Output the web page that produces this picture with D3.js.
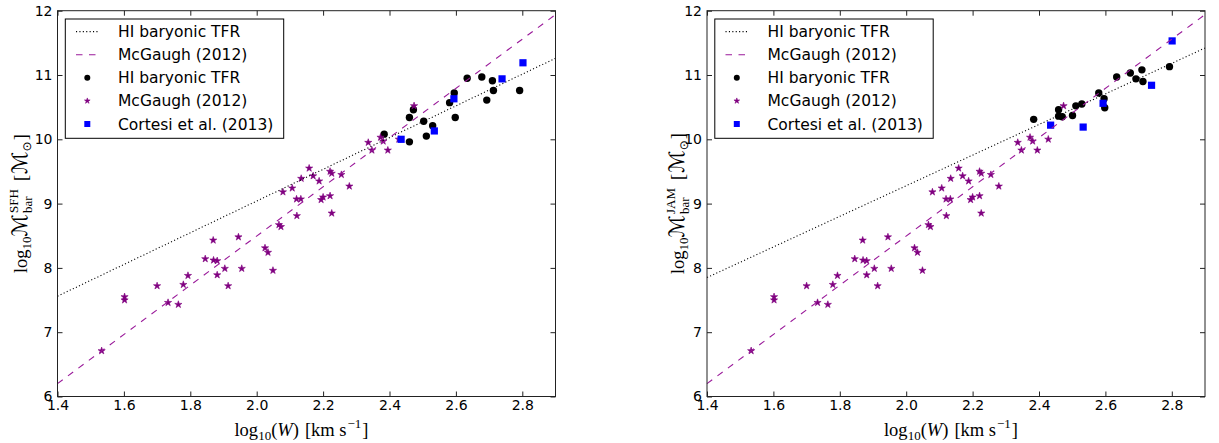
<!DOCTYPE html>
<html>
<head>
<meta charset="utf-8">
<script src="https://cdn.jsdelivr.net/npm/d3@7"></script>
<style>
  body { margin: 0; background: #fff; }
  text { font-family: "DejaVu Sans", sans-serif; }
</style>
</head>
<body>
<svg id="chart" width="1219" height="443"></svg>
<script>
var xTicks = [1.4, 1.6, 1.8, 2.0, 2.2, 2.4, 2.6, 2.8];
var yTicks = [6, 7, 8, 9, 10, 11, 12];

// McGaugh (2012) gas-rich galaxies, same in both panels
var mcgaughStars = [
  [1.533, 6.71], [1.602, 7.55], [1.602, 7.50], [1.700, 7.72], [1.733, 7.46],
  [1.764, 7.43], [1.779, 7.74], [1.793, 7.88], [1.845, 8.14], [1.869, 8.43],
  [1.870, 8.12], [1.881, 8.11], [1.881, 7.89], [1.904, 7.99], [1.914, 7.72],
  [1.945, 8.48], [1.955, 7.99], [2.025, 8.31], [2.034, 8.24], [2.049, 7.96],
  [2.067, 8.67], [2.073, 8.64], [2.079, 9.18], [2.107, 9.24], [2.120, 9.07],
  [2.121, 8.81], [2.133, 9.07], [2.134, 9.39], [2.158, 9.55], [2.170, 9.43],
  [2.188, 9.35], [2.194, 9.06], [2.200, 9.10], [2.221, 9.12], [2.221, 9.50],
  [2.226, 9.47], [2.226, 8.85], [2.255, 9.45], [2.279, 9.27], [2.336, 9.95],
  [2.347, 9.83], [2.373, 10.03], [2.381, 9.97], [2.395, 9.83], [2.428, 10.00],
  [2.474, 10.52]
];

// HI baryonic TFR sample, SFH masses
var hiSFH = [
  [2.384, 10.08], [2.460, 9.96], [2.460, 10.34], [2.472, 10.46], [2.503, 10.28],
  [2.511, 10.05], [2.530, 10.21], [2.581, 10.57], [2.595, 10.72], [2.598, 10.34],
  [2.634, 10.95], [2.678, 10.97], [2.693, 10.61], [2.710, 10.91], [2.713, 10.76],
  [2.792, 10.76]
];
var cortesiSFH = [[2.435, 10.00], [2.535, 10.13], [2.594, 10.63], [2.739, 10.94], [2.802, 11.19]];

// HI baryonic TFR sample, JAM masses
var hiJAM = [
  [2.384, 10.31], [2.459, 10.46], [2.459, 10.36], [2.470, 10.35], [2.501, 10.37],
  [2.511, 10.52], [2.529, 10.55], [2.580, 10.72], [2.596, 10.63], [2.598, 10.49],
  [2.634, 10.97], [2.675, 11.03], [2.692, 10.94], [2.710, 11.08], [2.713, 10.90],
  [2.793, 11.13]
];
var cortesiJAM = [[2.435, 10.22], [2.533, 10.19], [2.593, 10.56], [2.739, 10.84], [2.801, 11.53]];

// fitted relations
var hiFitSFH = [[1.4, 7.56], [2.9, 11.26]];
var hiFitJAM = [[1.4, 7.85], [2.9, 11.42]];
var mcgaughFit = [[1.4, 6.2], [2.9, 11.94]];

var legendLabels = ["HI baryonic TFR", "McGaugh (2012)", "HI baryonic TFR", "McGaugh (2012)", "Cortesi et al. (2013)"];

var svg = d3.select("#chart");
svg.append("rect").attr("width", 1219).attr("height", 443).attr("fill", "#fff");

var panels = [
  {left: 57.5, hi: hiSFH, cortesi: cortesiSFH, fit: hiFitSFH, sup: "SFH", labX: 27},
  {left: 707, hi: hiJAM, cortesi: cortesiJAM, fit: hiFitJAM, sup: "JAM", labX: 684}
];

var plotW = 498, plotTop = 10.7, plotBottom = 396.5;
var serif = "'Liberation Serif', 'DejaVu Serif', serif";

// lay out a little math string; pieces go along +x, group is centred
function mathText(g, parts) {
  var cx = 0;
  parts.forEach(function(p) {
    cx += p.gap || 0;
    if (p.stack) {
      var w = 0;
      p.stack.forEach(function(s) {
        var t = g.append("text").attr("x", cx).attr("y", s.dy)
          .style("font-family", serif).style("font-size", p.size + "px").text(s.t);
        w = Math.max(w, t.node().getComputedTextLength());
      });
      cx += w;
    } else {
      var t = g.append("text").attr("x", cx).attr("y", p.dy || 0)
        .style("font-family", p.font || serif).style("font-size", p.size + "px")
        .style("font-style", p.italic ? "italic" : "normal").text(p.t);
      cx += t.node().getComputedTextLength();
    }
  });
  g.selectAll("text").attr("x", function() { return +d3.select(this).attr("x") - cx / 2; });
}

panels.forEach(function(p) {
  var x = d3.scaleLinear().domain([1.4, 2.9]).range([p.left, p.left + plotW]);
  var y = d3.scaleLinear().domain([6, 12]).range([plotBottom, plotTop]);
  var g = svg.append("g");

  // markers
  g.append("g").selectAll("circle").data(p.hi).enter().append("circle")
    .attr("cx", d => x(d[0])).attr("cy", d => y(d[1])).attr("r", 3.7).attr("fill", "#000");
  g.append("g").selectAll("path").data(mcgaughStars).enter().append("path")
    .attr("d", d3.symbol(d3.symbolStar, 16))
    .attr("transform", d => "translate(" + x(d[0]) + "," + y(d[1]) + ")")
    .attr("fill", "purple").attr("stroke", "purple").attr("stroke-width", 0.6);
  g.append("g").selectAll("rect").data(p.cortesi).enter().append("rect")
    .attr("x", d => x(d[0]) - 3.6).attr("y", d => y(d[1]) - 3.6)
    .attr("width", 7.2).attr("height", 7.2).attr("fill", "#0000ff");

  // fits
  var line = d3.line().x(d => x(d[0])).y(d => y(d[1]));
  g.append("path").attr("d", line(p.fit)).attr("fill", "none")
    .attr("stroke", "#000").attr("stroke-width", 1.1).attr("stroke-dasharray", "1.1,2.3");
  g.append("path").attr("d", line(mcgaughFit)).attr("fill", "none")
    .attr("stroke", "#9a1a9a").attr("stroke-width", 1.1).attr("stroke-dasharray", "6.5,6.5");

  // axes, ticks inward on all sides
  var ax = g.append("g").attr("transform", "translate(0," + plotBottom + ")")
    .call(d3.axisBottom(x).tickValues(xTicks).tickFormat(d3.format(".1f")).tickSize(-5).tickPadding(4));
  var at = g.append("g").attr("transform", "translate(0," + plotTop + ")")
    .call(d3.axisTop(x).tickValues(xTicks).tickFormat("").tickSize(-5));
  var ay = g.append("g").attr("transform", "translate(" + p.left + ",0)")
    .call(d3.axisLeft(y).tickValues(yTicks).tickFormat(d3.format("d")).tickSize(-5).tickPadding(5));
  var ar = g.append("g").attr("transform", "translate(" + (p.left + plotW) + ",0)")
    .call(d3.axisRight(y).tickValues(yTicks).tickFormat("").tickSize(-5));
  [ax, at, ay, ar].forEach(function(a) {
    a.select(".domain").remove();
    a.selectAll("line").attr("stroke", "#222");
    a.selectAll("text").style("font-size", "14px").style("font-family", "'DejaVu Sans', sans-serif").attr("fill", "#000");
  });
  g.append("rect").attr("x", p.left).attr("y", plotTop).attr("width", plotW).attr("height", plotBottom - plotTop)
    .attr("fill", "none").attr("stroke", "#222").attr("stroke-width", 1);

  // legend
  var lx = p.left + 7.8, ly = 19;
  var lg = g.append("g");
  lg.append("rect").attr("x", lx).attr("y", ly).attr("width", 218.4).attr("height", 119.3)
    .attr("fill", "#fff").attr("stroke", "#000").attr("stroke-width", 1);
  var rows = legendLabels.map((t, i) => ly + 12.6 + i * 23.1);
  lg.append("line").attr("x1", lx + 10.7).attr("x2", lx + 32.7).attr("y1", rows[0]).attr("y2", rows[0])
    .attr("stroke", "#000").attr("stroke-width", 1.1).attr("stroke-dasharray", "1.1,2.3");
  lg.append("line").attr("x1", lx + 10.7).attr("x2", lx + 32.7).attr("y1", rows[1]).attr("y2", rows[1])
    .attr("stroke", "#9a1a9a").attr("stroke-width", 1.1).attr("stroke-dasharray", "6.5,6.5");
  lg.append("circle").attr("cx", lx + 22).attr("cy", rows[2]).attr("r", 3).attr("fill", "#000");
  lg.append("path").attr("d", d3.symbol(d3.symbolStar, 10))
    .attr("transform", "translate(" + (lx + 22) + "," + rows[3] + ")")
    .attr("fill", "purple").attr("stroke", "purple").attr("stroke-width", 0.6);
  lg.append("rect").attr("x", lx + 19).attr("y", rows[4] - 3).attr("width", 6).attr("height", 6)
    .attr("fill", "#0000ff");
  lg.selectAll("text.lab").data(legendLabels).enter().append("text").attr("class", "lab")
    .attr("x", lx + 52.7).attr("y", (d, i) => rows[i]).attr("dy", "0.36em")
    .style("font-size", "15.5px").text(d => d);

  // x label
  var xl = g.append("g").attr("transform", "translate(" + (p.left + plotW / 2 - 5) + ",436)");
  mathText(xl, [
    {t: "log", size: 18.5},
    {t: "10", size: 13, dy: 4},
    {t: "(", size: 18.5},
    {t: "W", size: 18.5, italic: true},
    {t: ")", size: 18.5},
    {t: "[km s", size: 18.5, gap: 6},
    {t: "\u22121", size: 13, dy: -8, gap: 1},
    {t: "]", size: 18.5, gap: 1}
  ]);

  // y label
  var yl = g.append("g").attr("transform", "translate(" + p.labX + "," + ((plotTop + plotBottom) / 2) + ") rotate(-90)");
  mathText(yl, [
    {t: "log", size: 18.5},
    {t: "10", size: 13, dy: 4},
    {t: "\u2133", size: 21, font: "'DejaVu Sans', sans-serif"},
    {stack: [{t: p.sup, dy: -9}, {t: "bar", dy: 5}], size: 13, gap: 1},
    {t: "[", size: 18.5, gap: 8},
    {t: "\u2133", size: 21, font: "'DejaVu Sans', sans-serif", gap: 1},
    {t: "\u2299", size: 12, dy: 4, font: "'DejaVu Sans', sans-serif"},
    {t: "]", size: 18.5, gap: 1}
  ]);
});
</script>
</body>
</html>
